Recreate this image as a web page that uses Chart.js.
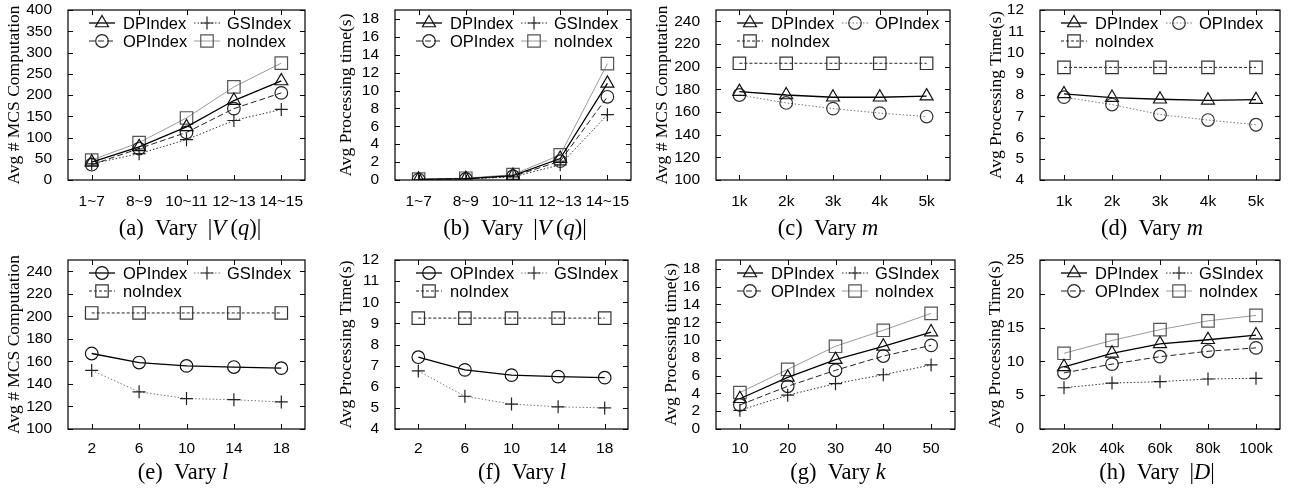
<!DOCTYPE html>
<html>
<head>
<meta charset="utf-8">
<script src="https://cdn.jsdelivr.net/npm/chart.js@4.4.1/dist/chart.umd.min.js"></script>
<style>
    html, body { margin: 0; padding: 0; background: #fff; }
    body { width: 1293px; height: 495px; position: relative; overflow: hidden; }
    canvas { position: absolute; }
    .cap {
        position: absolute;
        font-family: 'Liberation Serif', 'Times New Roman', serif;
        font-size: 22.5px;
        line-height: 22px;
        white-space: nowrap;
        transform: translateX(-50%);
        will-change: transform;
        color: #000;
    }
</style>
</head>
<body>
<script>
Chart.defaults.font.family = "'Liberation Sans', Arial, sans-serif"
Chart.defaults.color = '#000'
const SERIF = "'Liberation Serif', 'Times New Roman', serif"

// categories
const vqLabels = ['1~7', '8~9', '10~11', '12~13', '14~15']
const mLabels = ['1k', '2k', '3k', '4k', '5k']
const lLabels = ['2', '6', '10', '14', '18']
const kLabels = ['10', '20', '30', '40', '50']
const dLabels = ['20k', '40k', '60k', '80k', '100k']

// (a) MCS computations, vary |V(q)|
const aDP = [42, 78, 125, 187, 233]
const aGS = [38, 62, 95, 140, 166]
const aOP = [36, 74, 112, 168, 205]
const aNo = [47, 88, 146, 219, 275]

// (b) processing time, vary |V(q)|
const bDP = [0.08, 0.15, 0.5, 2.4, 10.8]
const bGS = [0.04, 0.1, 0.35, 1.7, 7.3]
const bOP = [0.05, 0.12, 0.42, 2.1, 9.3]
const bNo = [0.1, 0.2, 0.6, 2.8, 13.0]

// (c) MCS computations, vary m
const cDP = [178, 175, 173, 173, 174]
const cOP = [175, 168, 163, 159, 156]
const cNo = [203, 203, 203, 203, 203]

// (d) processing time, vary m
const dDP = [8.05, 7.88, 7.8, 7.75, 7.78]
const dOP = [7.9, 7.55, 7.08, 6.82, 6.6]
const dNo = [9.3, 9.3, 9.3, 9.3, 9.3]

// (e) MCS computations, vary l
const eOP = [167, 159, 156, 155, 154]
const eGS = [152, 133, 127, 126, 124]
const eNo = [203, 203, 203, 203, 203]

// (f) processing time, vary l
const fOP = [7.4, 6.8, 6.55, 6.48, 6.43]
const fGS = [6.75, 5.55, 5.18, 5.05, 5.0]
const fNo = [9.25, 9.25, 9.25, 9.25, 9.25]

// (g) processing time, vary k
const gDP = [3.4, 5.8, 7.8, 9.3, 10.9]
const gGS = [2.1, 3.8, 5.1, 6.1, 7.2]
const gOP = [2.7, 4.8, 6.6, 8.2, 9.4]
const gNo = [4.1, 6.7, 9.3, 11.1, 13.0]

// (h) processing time, vary |D|
const hDP = [9.2, 11.2, 12.6, 13.2, 13.9]
const hGS = [6.1, 6.8, 7.0, 7.4, 7.5]
const hOP = [8.3, 9.6, 10.7, 11.5, 12.0]
const hNo = [11.2, 13.1, 14.7, 16.0, 16.8]

// gnuplot-ish line types
const looks = {
    solidBlack: { color: '#000', dash: [], width: 1.3 },
    dashDark: { color: '#222', dash: [6, 3], width: 1 },
    dotDark: { color: '#333', dash: [1.5, 2], width: 1 },
    solidGray: { color: '#9a9a9a', dash: [], width: 1 },
    dotGray: { color: '#777', dash: [1.5, 2], width: 1 },
    dashFine: { color: '#222', dash: [3, 2], width: 1 },
}

const markers = {
    DPIndex: { shape: 'triangle', r: 7.5 },
    OPIndex: { shape: 'circle', r: 6.3 },
    GSIndex: { shape: 'cross', r: 6.5 },
    noIndex: { shape: 'rect', r: 8.8 },
}

const rows = [
    { top: 0, padTop: 10, xH: 35, xPad: 4, capY: 217 },
    { top: 245, padTop: 15, xH: 31, xPad: 2, capY: 461 },
]

const mcsTitle = 'Avg # MCS Computation'
const vq = '|<i>V</i>&thinsp;(<i>q</i>)|'

const panels = [
    { row: 0, left: 0, plotLeft: 68, plotRight: 312, labels: vqLabels, yTitle: mcsTitle, y: [0, 400, 50],
      cap: '(a)&ensp;Vary&thinsp; ' + vq, capX: 190,
      series: [['DPIndex', aDP, 'solidBlack', '#111'], ['GSIndex', aGS, 'dotDark', '#222'],
               ['OPIndex', aOP, 'dashDark', '#222'], ['noIndex', aNo, 'solidGray', '#555']] },
    { row: 0, left: 332, plotLeft: 395, plotRight: 638, labels: vqLabels, yTitle: 'Avg Processing time(s)', y: [0, 19, 2],
      cap: '(b)&ensp;Vary&thinsp; ' + vq, capX: 515,
      series: [['DPIndex', bDP, 'solidBlack', '#111'], ['GSIndex', bGS, 'dotDark', '#222'],
               ['OPIndex', bOP, 'dashDark', '#222'], ['noIndex', bNo, 'solidGray', '#555']] },
    { row: 0, left: 648, plotLeft: 716, plotRight: 957, labels: mLabels, yTitle: mcsTitle, y: [100, 250, 20],
      cap: '(c)&ensp;Vary <i>m</i>', capX: 828,
      series: [['DPIndex', cDP, 'solidBlack', '#111'], ['OPIndex', cOP, 'dotGray', '#333'],
               ['noIndex', cNo, 'dashFine', '#333']] },
    { row: 0, left: 982, plotLeft: 1040, plotRight: 1287, labels: mLabels, yTitle: 'Avg Processing Time(s)', y: [4, 12, 1],
      cap: '(d)&ensp;Vary <i>m</i>', capX: 1152,
      series: [['DPIndex', dDP, 'solidBlack', '#111'], ['OPIndex', dOP, 'dotGray', '#333'],
               ['noIndex', dNo, 'dashFine', '#333']] },
    { row: 1, left: 0, plotLeft: 68, plotRight: 312, labels: lLabels, yTitle: mcsTitle, y: [100, 250, 20],
      cap: '(e)&ensp;Vary <i>l</i>', capX: 183,
      series: [['OPIndex', eOP, 'solidBlack', '#111'], ['GSIndex', eGS, 'dotGray', '#222'],
               ['noIndex', eNo, 'dashFine', '#333']] },
    { row: 1, left: 332, plotLeft: 395, plotRight: 635, labels: lLabels, yTitle: 'Avg Processing Time(s)', y: [4, 12, 1],
      cap: '(f)&ensp;Vary <i>l</i>', capX: 522,
      series: [['OPIndex', fOP, 'solidBlack', '#111'], ['GSIndex', fGS, 'dotGray', '#222'],
               ['noIndex', fNo, 'dashFine', '#333']] },
    { row: 1, left: 657, plotLeft: 716, plotRight: 962, labels: kLabels, yTitle: 'Avg Processing time(s)', y: [0, 19, 2],
      cap: '(g)&ensp;Vary <i>k</i>', capX: 838,
      series: [['DPIndex', gDP, 'solidBlack', '#111'], ['GSIndex', gGS, 'dotDark', '#222'],
               ['OPIndex', gOP, 'dashDark', '#222'], ['noIndex', gNo, 'solidGray', '#555']] },
    { row: 1, left: 981, plotLeft: 1040, plotRight: 1287, labels: dLabels, yTitle: 'Avg Processing Time(s)', y: [0, 25, 5],
      cap: '(h)&ensp;Vary&thinsp; |<i>D</i>|', capX: 1157,
      series: [['DPIndex', hDP, 'solidBlack', '#111'], ['GSIndex', hGS, 'dotDark', '#222'],
               ['OPIndex', hOP, 'dashDark', '#222'], ['noIndex', hNo, 'solidGray', '#555']] },
]

// box around the plot with inward ticks on all four sides
const framePlugin = {
    id: 'frame',
    beforeDatasetsDraw(chart) {
        const { ctx, chartArea: a, scales: { x, y } } = chart
        ctx.save()
        ctx.strokeStyle = '#000'
        ctx.lineWidth = 1.2
        ctx.strokeRect(a.left, a.top, a.right - a.left, a.bottom - a.top)
        ctx.lineWidth = 1
        ctx.beginPath()
        y.ticks.forEach(t => {
            const py = Math.round(y.getPixelForValue(t.value)) + 0.5
            ctx.moveTo(a.left, py)
            ctx.lineTo(a.left + 5, py)
            ctx.moveTo(a.right - 5, py)
            ctx.lineTo(a.right, py)
        })
        x.ticks.forEach((t, i) => {
            const px = Math.round(x.getPixelForTick(i)) + 0.5
            ctx.moveTo(px, a.bottom)
            ctx.lineTo(px, a.bottom - 5)
            ctx.moveTo(px, a.top)
            ctx.lineTo(px, a.top + 5)
        })
        ctx.stroke()
        ctx.restore()
    },
}

// key in two columns at the top of the plot
const keyCols = [[21, 55], [126, 159]]
const keyPlugin = {
    id: 'key',
    afterDatasetsDraw(chart) {
        const { ctx, chartArea: a } = chart
        chart.data.datasets.forEach((d, i) => {
            const col = keyCols[i % 2]
            const x0 = a.left + col[0]
            const y0 = a.top + 13 + Math.floor(i / 2) * 18
            ctx.save()
            ctx.strokeStyle = d.borderColor
            ctx.lineWidth = d.borderWidth
            ctx.setLineDash(d.borderDash)
            ctx.beginPath()
            ctx.moveTo(x0, y0)
            ctx.lineTo(x0 + 26, y0)
            ctx.stroke()
            ctx.setLineDash([])
            ctx.strokeStyle = d.pointBorderColor
            ctx.fillStyle = 'rgba(0,0,0,0)'
            ctx.lineWidth = d.pointBorderWidth
            Chart.helpers.drawPoint(ctx, { pointStyle: d.pointStyle, radius: d.pointRadius, rotation: 0, borderWidth: d.pointBorderWidth }, x0 + 13, y0)
            ctx.fillStyle = '#000'
            ctx.font = "16.5px 'Liberation Sans', Arial, sans-serif"
            ctx.textBaseline = 'middle'
            ctx.fillText(d.label, a.left + col[1], y0 + 1)
            ctx.restore()
        })
    },
}

function toDataset([label, data, look, markColor]) {
    const l = looks[look]
    const m = markers[label]
    return {
        label,
        data,
        borderColor: l.color,
        borderWidth: l.width,
        borderDash: l.dash,
        pointStyle: m.shape,
        pointRadius: m.r,
        pointHoverRadius: m.r,
        pointBorderColor: markColor,
        pointBorderWidth: 1.2,
        pointBackgroundColor: 'rgba(0,0,0,0)',
        tension: 0,
        fill: false,
    }
}

panels.forEach(p => {
    const r = rows[p.row]
    const canvas = document.createElement('canvas')
    canvas.width = p.plotRight - p.left + 3
    canvas.height = 215
    canvas.style.left = p.left + 'px'
    canvas.style.top = r.top + 'px'
    document.body.appendChild(canvas)

    new Chart(canvas.getContext('2d'), {
        type: 'line',
        data: { labels: p.labels, datasets: p.series.map(toDataset) },
        options: {
            responsive: false,
            animation: false,
            layout: { padding: { top: r.padTop, right: 3, left: 0, bottom: 0 } },
            plugins: { legend: { display: false }, tooltip: { enabled: false } },
            scales: {
                x: {
                    offset: true,
                    grid: { display: false },
                    border: { display: false },
                    ticks: { font: { size: 15.5 }, padding: r.xPad, maxRotation: 0, autoSkip: false },
                    afterFit: s => {
                        s.height = r.xH
                        s.paddingLeft = 0
                        s.paddingRight = 0
                    },
                },
                y: {
                    min: p.y[0],
                    max: p.y[1],
                    grid: { display: false },
                    border: { display: false },
                    ticks: { stepSize: p.y[2], includeBounds: false, autoSkip: false, padding: 8, font: { size: 15.5 } },
                    title: { display: true, text: p.yTitle, font: { family: SERIF, size: 17.5 }, padding: { top: 4, bottom: 0 } },
                    afterFit: s => {
                        s.width = p.plotLeft - p.left
                        s.paddingTop = 0
                        s.paddingBottom = 0
                    },
                },
            },
        },
        plugins: [framePlugin, keyPlugin],
    })

    const cap = document.createElement('div')
    cap.className = 'cap'
    cap.innerHTML = p.cap
    cap.style.left = p.capX + 'px'
    cap.style.top = r.capY + 'px'
    document.body.appendChild(cap)
})
</script>
</body>
</html>
